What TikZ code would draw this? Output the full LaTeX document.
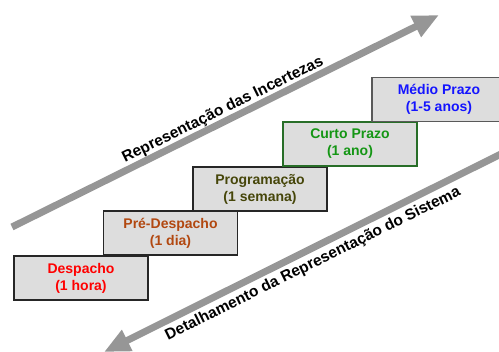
\documentclass[tikz,border=0pt]{standalone}
\usepackage{fontspec}
\setmainfont{Liberation Sans}
\usetikzlibrary{arrows.meta}
\definecolor{boxfill}{RGB}{221,221,221}
\definecolor{arrowgray}{RGB}{150,150,150}
\definecolor{cRed}{RGB}{255,0,0}
\definecolor{cBrown}{RGB}{178,72,16}
\definecolor{cOlive}{RGB}{70,70,10}
\definecolor{cGreen}{RGB}{20,150,20}
\definecolor{cGreenB}{RGB}{40,110,40}
\definecolor{cBlue}{RGB}{20,20,255}
\tikzset{
  stagebox/.style={draw=black!85, line width=1.1bp, fill=boxfill, minimum width=134bp, minimum height=44bp, inner sep=0pt, align=center, font=\fontsize{14bp}{17bp}\selectfont\bfseries},
  bigarrow/.style={draw=arrowgray, line width=7bp, -{Triangle[length=26bp,width=22bp]}},
  arrowlabel/.style={font=\fontsize{15.5bp}{18bp}\selectfont\bfseries, rotate=26.3, inner sep=0pt}
}
\begin{document}
\begin{tikzpicture}[x=1bp,y=-1bp]
\useasboundingbox (0,0) rectangle (499,351);
\begin{scope}
\clip (0,0) rectangle (499,351);
\node[stagebox, text=cRed] (desp) at (81,278) {Despacho\\(1 hora)};
\node[stagebox, text=cBrown] (pre) at (170.5,233) {Pré-Despacho\\(1 dia)};
\node[stagebox, text=cOlive] (prog) at (260,189) {Programação\\(1 semana)};
\node[stagebox, draw=cGreenB, text=cGreen] (curto) at (350,144) {Curto Prazo\\(1 ano)};
\node[stagebox, draw=black!65, text=cBlue] (medio) at (439,99.5) {Médio Prazo\\(1-5 anos)};
\coordinate (a1s) at (12,227);
\coordinate (a1e) at (439,15);
\coordinate (a2s) at (515,147);
\coordinate (a2e) at (104,352);
\draw[bigarrow] (a1s) -- (a1e);
\draw[bigarrow] (a2s) -- (a2e);
\node[arrowlabel] (lab1) at (223,110) {Representação das Incertezas};
\node[arrowlabel] (lab2) at (313,264) {Detalhamento da Representação do Sistema};
\end{scope}
\end{tikzpicture}
\end{document}
